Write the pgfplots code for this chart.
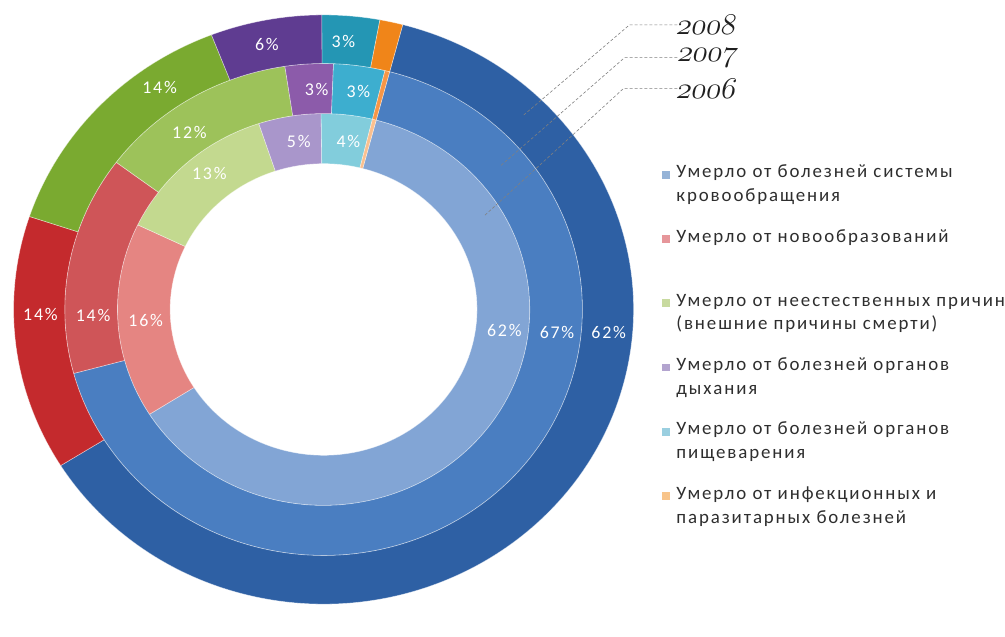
\documentclass[border=0pt]{standalone}
\usepackage{pgfplots}
\pgfplotsset{compat=1.18}
\usepackage{pgfplotstable}
\usepackage{fontspec}
\setmainfont{Carlito}
\newfontfamily\labfont[LetterSpace=10]{Carlito}
\newcommand\yearfont{\fontsize{24.88}{26}\usefont{OML}{cmm}{m}{it}}

% ring colours: a = 2006 (inner), b = 2007, c = 2008 (outer)
\definecolor{ringa0}{HTML}{82A5D5}
\definecolor{ringa1}{HTML}{E58582}
\definecolor{ringa2}{HTML}{C3D98F}
\definecolor{ringa3}{HTML}{A996CB}
\definecolor{ringa4}{HTML}{82CDDC}
\definecolor{ringa5}{HTML}{FAC08F}
\definecolor{ringb0}{HTML}{4A7EC1}
\definecolor{ringb1}{HTML}{CF5558}
\definecolor{ringb2}{HTML}{9DC25A}
\definecolor{ringb3}{HTML}{8C5BAA}
\definecolor{ringb4}{HTML}{3DAECF}
\definecolor{ringb5}{HTML}{F79646}
\definecolor{ringc0}{HTML}{2E60A4}
\definecolor{ringc1}{HTML}{C42A2D}
\definecolor{ringc2}{HTML}{7AAA30}
\definecolor{ringc3}{HTML}{5F3C91}
\definecolor{ringc4}{HTML}{2496B4}
\definecolor{ringc5}{HTML}{F08519}
\definecolor{leg0}{HTML}{95B3D7}
\definecolor{leg1}{HTML}{E6969A}
\definecolor{leg2}{HTML}{C8DA9F}
\definecolor{leg3}{HTML}{B3A4CF}
\definecolor{leg4}{HTML}{9ACFE0}
\definecolor{leg5}{HTML}{F8C48A}
\definecolor{txt}{HTML}{2E2E2E}

% shares of deaths, percent
\pgfplotstableread{
cause  y2006 y2007 y2008
circ   61.9  66.7  62.0
neo    16.1  14.4  14.0
ext    12.8  12.4  14.0
resp    4.9   3.0   5.8
dig     4.0   3.2   3.0
inf     0.3   0.3   1.2
}\shares

% data label positions (chart pixels, y up)
\pgfplotstableread{
x   y   pct
612 276 62
40  294 14
160 523 14
268 566 6
345 569 3
560 276 67
93  293 14
190 478 12
318 521 3
360 519 3
507 278 62
146 288 16
210 436 13
300 469 5
350 469 4
}\labels

\begin{document}
\begin{tikzpicture}
\begin{axis}[
  x=1pt, y=1pt,
  xmin=0, xmax=1005, ymin=0, ymax=611,
  hide axis, clip=false,
  % every entry has two lines; the square sits on the first one
  legend image code/.code={\fill[#1, draw=none] (0pt,23pt) rectangle (8pt,31pt);},
  legend style={
    at={(0.6617,0.7283)}, anchor=north west,
    draw=none, fill=none, inner sep=0pt,
    font={\fontsize{19}{24}\selectfont\labfont},
    text=txt,
    cells={anchor=base west, align=left},
    nodes={inner sep=0pt},
    column sep=7pt, row sep=26.4pt,
  },
]
\path (axis cs:0,0) rectangle (axis cs:1005,611);

\pgfplotsextra{
  \foreach \col/\ring/\rin/\rout in {y2006/a/0.495/0.665, y2007/b/0.665/0.835, y2008/c/0.835/1}{
    \xdef\cum{14.8}
    \foreach \i in {0,...,5}{
      \pgfplotstablegetelem{\i}{\col}\of\shares
      \pgfmathsetmacro\aa{90-\cum}
      \pgfmathsetmacro\bb{90-\cum-3.6*\pgfplotsretval}
      \pgfmathsetmacro\rxo{312*\rout}
      \pgfmathsetmacro\ryo{296.5*\rout}
      \pgfmathsetmacro\rxi{312*\rin}
      \pgfmathsetmacro\ryi{296.5*\rin}
      \fill[fill=ring\ring\i, draw=white, draw opacity=0.5, line width=0.6pt]
        ([shift={(\aa:\rxo pt and \ryo pt)}]axis cs:325,299.5)
        arc[start angle=\aa, end angle=\bb, x radius=\rxo pt, y radius=\ryo pt]
        -- ([shift={(\bb:\rxi pt and \ryi pt)}]axis cs:325,299.5)
        arc[start angle=\bb, end angle=\aa, x radius=\rxi pt, y radius=\ryi pt]
        -- cycle;
      \pgfmathsetmacro\nc{\cum+3.6*\pgfplotsretval}
      \xdef\cum{\nc}
    }
  }
}

\addplot[forget plot, only marks, mark=none,
  point meta=explicit symbolic,
  nodes near coords={\pgfplotspointmeta\%},
  every node near coord/.append style={anchor=center, text=white,
    font={\fontsize{18}{18}\selectfont\labfont}}]
  table[x=x, y=y, meta=pct] {\labels};

\addplot[forget plot, densely dashed, gray, line width=0.6pt] coordinates {(681,586) (633,586) (525,494)}
  node[pos=0, anchor=west, inner sep=0pt, scale=1.22, xslant=0.2, text=black!88] {\yearfont 2008};
\addplot[forget plot, densely dashed, gray, line width=0.6pt] coordinates {(681,553) (628,553) (503,444)}
  node[pos=0, anchor=west, inner sep=0pt, scale=1.22, xslant=0.2, text=black!88] {\yearfont 2007};
\addplot[forget plot, densely dashed, gray, line width=0.6pt] coordinates {(681,522) (627,522) (487,394)}
  node[pos=0, anchor=west, inner sep=0pt, scale=1.22, xslant=0.2, text=black!88] {\yearfont 2006};

\addlegendimage{fill=leg0}
\addlegendentry{Умерло от болезней системы\\кровообращения}
\addlegendimage{fill=leg1}
\addlegendentry{Умерло от новообразований\\\strut}
\addlegendimage{fill=leg2}
\addlegendentry{Умерло от неестественных причин\\(внешние причины смерти)}
\addlegendimage{fill=leg3}
\addlegendentry{Умерло от болезней органов\\дыхания}
\addlegendimage{fill=leg4}
\addlegendentry{Умерло от болезней органов\\пищеварения}
\addlegendimage{fill=leg5}
\addlegendentry{Умерло от инфекционных и\\паразитарных болезней}
\end{axis}
\end{tikzpicture}
\end{document}
